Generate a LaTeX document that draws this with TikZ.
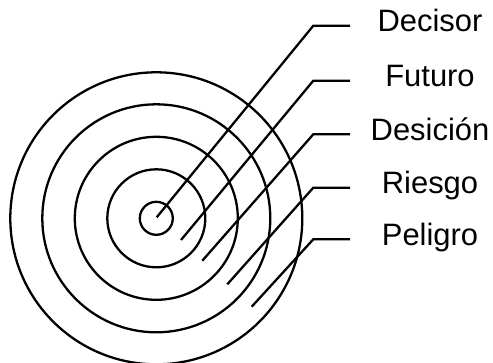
\documentclass[tikz,border=0pt]{standalone}
\usepackage{fontspec}
\setmainfont{Liberation Sans}

\begin{document}
\begin{tikzpicture}[x=0.02cm, y=-0.02cm, line width=1.3pt, every node/.style={font=\fontsize{17.6}{20}\selectfont}]
	\useasboundingbox (0,0) rectangle (493,362);
	\coordinate (c) at (156.3,218.3);
	\foreach \r in {16.5,49,81.5,114,146}
		\draw (c) circle[radius=\r];
	\foreach \name/\txt/\sx/\sy/\ky in {decisor/Decisor/156.7/217.3/25.7, futuro/Futuro/181/240/80.7, desicion/Desición/202.3/260.7/134.3, riesgo/Riesgo/227.3/284.3/187.7, peligro/Peligro/251.7/306.7/239.3} {
		\coordinate (\name-s) at (\sx,\sy);
		\coordinate (\name-k) at (313.3,\ky);
		\coordinate (\name-e) at (350,\ky);
		\node[inner sep=0pt, text height=0.716em, text depth=0pt] (\name) at (430,\ky) {\txt};
		\draw (\name-s) -- (\name-k) -- (\name-e);
	}
\end{tikzpicture}
\end{document}
